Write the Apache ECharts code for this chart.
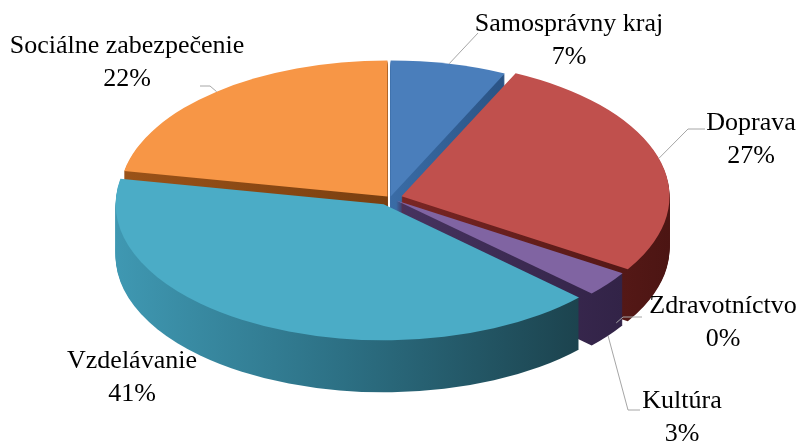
<!DOCTYPE html>
<html><head><meta charset="utf-8">
<script src="https://cdn.jsdelivr.net/npm/echarts@6/dist/echarts.min.js"></script>
<style>html,body{margin:0;padding:0;background:#fff}#main{width:801px;height:444px}</style>
</head><body><div id="main"></div>
<script>
// ---- data ----
const categories = ['Samosprávny kraj', 'Doprava', 'Zdravotníctvo', 'Kultúra', 'Vzdelávanie', 'Sociálne zabezpečenie'];
const values = [7, 27, 0, 3, 41, 22];

// ---- styles / layout ----
const topColors = ['#4a7ebb', '#c0504d', '#9bbb59', '#8064a2', '#4bacc6', '#f79646'];
const sideStops = [
  ['#3a6ca6', '#2a5384'],
  ['#7a2624', '#4c1513'],
  ['#5d7a2c', '#445a1e'],
  ['#47335f', '#322347'],
  ['#3f98b2', '#2c6f83', '#1c434e'],
  ['#9a5218', '#7a3f10']
];
const explode = [3, 12, 0, 8, 14, 4];
const PIE = { cx: 390, cy: 198, rx: 268, ry: 136, depth: 52 };
const labelLayout = [
  { x: 569, y: 8, end: [478, 33], elbow: [478, 33] },
  { x: 751, y: 107, end: [705, 129], elbow: [688, 129] },
  { x: 723, y: 290, end: [642, 317], elbow: [623, 317] },
  { x: 682, y: 385, end: [640, 410], elbow: [628, 410] },
  { x: 132, y: 345, end: null },
  { x: 127, y: 30, end: [200, 86], elbow: [210, 86] }
];

const total = values.reduce((a, b) => a + b, 0);

function sideFill(i) {
  const st = sideStops[i];
  return new echarts.graphic.LinearGradient(0, 0, 1, 0,
    st.map((c, k) => ({ offset: st.length === 1 ? 0 : k / (st.length - 1), color: c })));
}

function renderItem(params, api) {
  const i = params.dataIndex;
  const v = api.value(0);
  let before = 0;
  for (let k = 0; k < i; k++) before += values[k];
  const a0 = before / total * Math.PI * 2;
  const a1 = (before + v) / total * Math.PI * 2;
  const mid = (a0 + a1) / 2;
  const e = explode[i];
  const sy = PIE.ry / PIE.rx;
  const ox = PIE.cx + e * Math.sin(mid);
  const oy = PIE.cy - e * Math.cos(mid) * sy;
  const shape = { cx: 0, cy: 0, r0: 0, r: PIE.rx, startAngle: a0 - Math.PI / 2, endAngle: a1 - Math.PI / 2, clockwise: true };
  const children = [];
  if (v > 0) {
    const fill = sideFill(i);
    for (let k = PIE.depth; k >= 1; k--) {
      children.push({
        type: 'sector', x: ox, y: oy + k, scaleX: 1, scaleY: sy, z2: PIE.depth - k,
        shape: Object.assign({}, shape), style: { fill: fill }, silent: true
      });
    }
    children.push({
      type: 'sector', x: ox, y: oy, scaleX: 1, scaleY: sy, z2: PIE.depth + 5,
      shape: Object.assign({}, shape), style: { fill: topColors[i] }, silent: true
    });
  }
  const lay = labelLayout[i];
  if (lay.end) {
    let ax = ox + PIE.rx * Math.sin(mid);
    let ay = oy - PIE.ry * Math.cos(mid);
    if (Math.cos(mid) < 0) ay += PIE.depth;
    children.push({
      type: 'polyline', z2: PIE.depth + 10, silent: true,
      shape: { points: [[ax, ay], lay.elbow, lay.end] },
      style: { stroke: '#a6a6a6', lineWidth: 1, fill: null }
    });
  }
  children.push({
    type: 'text', x: lay.x, y: lay.y, z2: PIE.depth + 20, silent: true,
    style: {
      text: categories[i] + '\n' + Math.round(v / total * 100) + '%',
      fontSize: 26, fontFamily: '"Liberation Serif", "Times New Roman", serif',
      fill: '#000', align: 'center', verticalAlign: 'top', lineHeight: 33
    }
  });
  return { type: 'group', children: children };
}

const chart = echarts.init(document.getElementById('main'), null, { renderer: 'canvas' });
chart.setOption({
  animation: false,
  backgroundColor: '#ffffff',
  series: [{
    type: 'custom',
    coordinateSystem: 'none',
    renderItem: renderItem,
    data: values.map((v, i) => ({ name: categories[i], value: [v] }))
  }]
});
</script>
</body></html>
